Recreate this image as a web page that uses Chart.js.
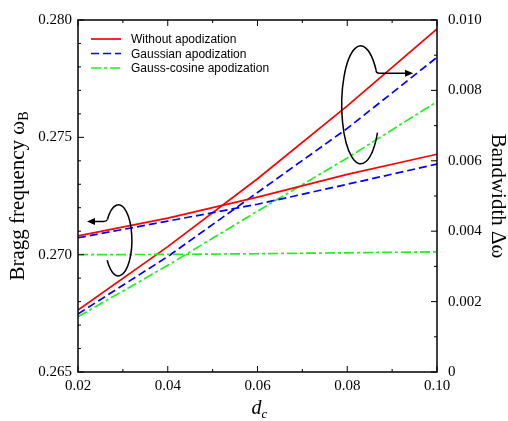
<!DOCTYPE html>
<html>
<head>
<meta charset="utf-8">
<script src="https://cdn.jsdelivr.net/npm/chart.js@4/dist/chart.umd.min.js"></script>
<style>
  html, body { margin: 0; padding: 0; background: #fff; }
  #wrap { width: 508px; height: 421px; position: relative; }
</style>
</head>
<body>
<div id="wrap"><canvas id="chart"></canvas></div>
<script>
const dcValues = [0.02, 0.04, 0.06, 0.08, 0.10];

// Bragg frequency (left axis)
const braggWithout = [0.2708, 0.27156, 0.27245, 0.27342, 0.27428];
const braggGaussian = [0.27072, 0.27143, 0.27215, 0.27300, 0.27386];
const braggGaussCos = [0.27000, 0.27001, 0.27004, 0.27008, 0.27012];

// Bandwidth (right axis)
const bwWithout = [0.00176, 0.00356, 0.00549, 0.00756, 0.00975];
const bwGaussian = [0.00165, 0.00328, 0.00510, 0.00692, 0.00894];
const bwGaussCos = [0.00157, 0.00303, 0.00457, 0.00608, 0.00768];

const seriesNames = ['Without apodization', 'Gaussian apodization', 'Gauss-cosine apodization'];
const xTicks = [0.02, 0.04, 0.06, 0.08, 0.10];

const SERIF = '"Liberation Serif", "Times New Roman", serif';
const SANS = '"Liberation Sans", Arial, sans-serif';

const styles = [
  { color: '#ff0000', dash: [] },
  { color: '#0000ff', dash: [8, 4] },
  { color: '#22ee22', dash: [10, 3, 3, 3] },
];

const pts = (ys) => dcValues.map((x, i) => ({ x, y: ys[i] }));

function line(label, ys, k, axis, inLegend) {
  return {
    label,
    data: pts(ys),
    yAxisID: axis,
    borderColor: styles[k].color,
    borderDash: styles[k].dash,
    borderWidth: 1.7,
    pointRadius: 0,
    fill: false,
    tension: 0,
    inLegend,
  };
}

const datasets = [
  line(seriesNames[0], braggWithout, 0, 'y', true),
  line(seriesNames[1], braggGaussian, 1, 'y', true),
  line(seriesNames[2], braggGaussCos, 2, 'y', true),
  line(seriesNames[0], bwWithout, 0, 'y1', false),
  line(seriesNames[1], bwGaussian, 1, 'y1', false),
  line(seriesNames[2], bwGaussCos, 2, 'y1', false),
];

function arrowHead(ctx, x, y, dir) {
  ctx.beginPath();
  ctx.moveTo(x, y);
  ctx.lineTo(x - dir * 8, y - 3.5);
  ctx.lineTo(x - dir * 8, y + 3.5);
  ctx.closePath();
  ctx.fill();
}

// frame, inward ticks, axis titles, legend and rotation markers
const decorations = {
  id: 'decorations',
  afterDraw(chart) {
    const { ctx, chartArea: a, scales } = chart;
    const xs = scales.x, yl = scales.y, yr = scales.y1;
    ctx.save();
    ctx.strokeStyle = '#000';
    ctx.fillStyle = '#000';
    ctx.lineWidth = 1.5;
    ctx.setLineDash([]);
    ctx.strokeRect(a.left, a.top, a.right - a.left, a.bottom - a.top);

    ctx.lineWidth = 1;
    ctx.beginPath();
    for (let i = 0; i <= 8; i++) {
      const v = 0.02 + i * 0.01;
      const px = xs.getPixelForValue(v);
      const len = i % 2 === 0 ? 6 : 3;
      ctx.moveTo(px, a.bottom); ctx.lineTo(px, a.bottom - len);
      ctx.moveTo(px, a.top); ctx.lineTo(px, a.top + len);
    }
    for (let i = 0; i <= 15; i++) {
      const py = yl.getPixelForValue(0.265 + i * 0.001);
      const len = i % 5 === 0 ? 6 : 3;
      ctx.moveTo(a.left, py); ctx.lineTo(a.left + len, py);
    }
    for (let i = 0; i <= 10; i++) {
      const py = yr.getPixelForValue(i * 0.001);
      const len = i % 2 === 0 ? 6 : 3;
      ctx.moveTo(a.right, py); ctx.lineTo(a.right - len, py);
    }
    ctx.stroke();

    // axis titles
    const midY = (a.top + a.bottom) / 2;
    ctx.textBaseline = 'alphabetic';
    ctx.save();
    ctx.translate(24, midY);
    ctx.rotate(-Math.PI / 2);
    const t1 = 'Bragg frequency \u03c9';
    ctx.font = '21px ' + SERIF;
    const w1 = ctx.measureText(t1).width;
    ctx.font = '14px ' + SERIF;
    const w2 = ctx.measureText('B').width;
    const start = -(w1 + w2) / 2;
    ctx.font = '21px ' + SERIF;
    ctx.textAlign = 'left';
    ctx.fillText(t1, start, 0);
    ctx.font = '14px ' + SERIF;
    ctx.fillText('B', start + w1, 4);
    ctx.restore();

    ctx.save();
    ctx.translate(492, midY);
    ctx.rotate(Math.PI / 2);
    ctx.font = '21px ' + SERIF;
    ctx.textAlign = 'center';
    ctx.fillText('Bandwidth \u0394\u03c9', 0, 0);
    ctx.restore();

    const cx = (a.left + a.right) / 2;
    ctx.font = 'italic 20px ' + SERIF;
    ctx.textAlign = 'left';
    const wd = ctx.measureText('d').width;
    ctx.fillText('d', cx - 6, 414);
    ctx.font = 'italic 13px ' + SERIF;
    ctx.fillText('c', cx - 6 + wd, 418);

    // legend
    ctx.font = '12px ' + SANS;
    ctx.textBaseline = 'middle';
    ctx.lineWidth = 1.7;
    chart.data.datasets.filter(d => d.inLegend).forEach((d, i) => {
      const y = a.top + 19 + i * 14.5;
      ctx.strokeStyle = d.borderColor;
      ctx.setLineDash(d.borderDash);
      ctx.beginPath();
      ctx.moveTo(a.left + 13, y);
      ctx.lineTo(a.left + 43, y);
      ctx.stroke();
      ctx.fillStyle = '#000';
      ctx.fillText(d.label, a.left + 53, y + 1);
    });
    ctx.setLineDash([]);

    // rotation markers pointing to each axis
    ctx.strokeStyle = '#000';
    ctx.fillStyle = '#000';
    ctx.lineWidth = 1.5;
    const lx = xs.getPixelForValue(0.0290), ly = yl.getPixelForValue(0.27061);
    ctx.beginPath();
    ctx.ellipse(lx, ly, 13.5, 35.5, 0, 216 * Math.PI / 180, 146 * Math.PI / 180);
    ctx.stroke();
    const le = ly - 35.5 * Math.sin(36 * Math.PI / 180);
    const lsx = lx - 13.5 * Math.cos(36 * Math.PI / 180);
    ctx.beginPath();
    ctx.moveTo(lsx, le);
    ctx.quadraticCurveTo(lsx - 1, le + 2, lsx - 4, le + 2);
    ctx.lineTo(a.left + 14, le + 2);
    ctx.stroke();
    arrowHead(ctx, a.left + 9, le + 2, -1);

    const rx = xs.getPixelForValue(0.0830), ry = yr.getPixelForValue(0.00759);
    ctx.beginPath();
    ctx.ellipse(rx, ry, 19, 59, 0, 28 * Math.PI / 180, 324 * Math.PI / 180);
    ctx.stroke();
    const ra = 324 * Math.PI / 180;
    const rex = rx + 19 * Math.cos(ra), rey = ry + 59 * Math.sin(ra);
    ctx.beginPath();
    ctx.moveTo(rex, rey);
    ctx.quadraticCurveTo(rex, rey + 3, rex + 3, rey + 3);
    ctx.lineTo(rex + 30, rey + 3);
    ctx.stroke();
    arrowHead(ctx, rex + 37, rey + 3, 1);
    ctx.restore();
  },
};

const tickFont = { family: SERIF, size: 15 };

new Chart(document.getElementById('chart'), {
  type: 'line',
  data: { datasets },
  options: {
    responsive: true,
    maintainAspectRatio: false,
    animation: false,
    layout: { padding: { left: 0, right: 0, top: 15, bottom: 0 } },
    plugins: {
      legend: { display: false },
      tooltip: { enabled: false },
    },
    scales: {
      x: {
        type: 'linear',
        min: 0.02,
        max: 0.10,
        afterBuildTicks: (s) => { s.ticks = xTicks.map(v => ({ value: v })); },
        ticks: {
          font: tickFont,
          color: '#000',
          padding: 5,
          maxRotation: 0,
          callback: (v) => v.toFixed(2),
        },
        grid: { display: false, drawTicks: false, tickLength: 0 },
        border: { display: false },
        afterFit: (s) => { s.height = 49; },
      },
      y: {
        position: 'left',
        min: 0.265,
        max: 0.280,
        ticks: {
          stepSize: 0.005,
          font: tickFont,
          color: '#000',
          padding: 6,
          callback: (v) => v.toFixed(3),
        },
        grid: { display: false, drawTicks: false, tickLength: 0 },
        border: { display: false },
        afterFit: (s) => { s.width = 78; },
      },
      y1: {
        position: 'right',
        min: 0,
        max: 0.010,
        ticks: {
          stepSize: 0.002,
          font: tickFont,
          color: '#000',
          padding: 11,
          callback: (v) => (Math.abs(v) < 1e-9 ? '0' : v.toFixed(3)),
        },
        grid: { display: false, drawTicks: false, tickLength: 0 },
        border: { display: false },
        afterFit: (s) => { s.width = 71; },
      },
    },
  },
  plugins: [decorations],
});
</script>
</body>
</html>
